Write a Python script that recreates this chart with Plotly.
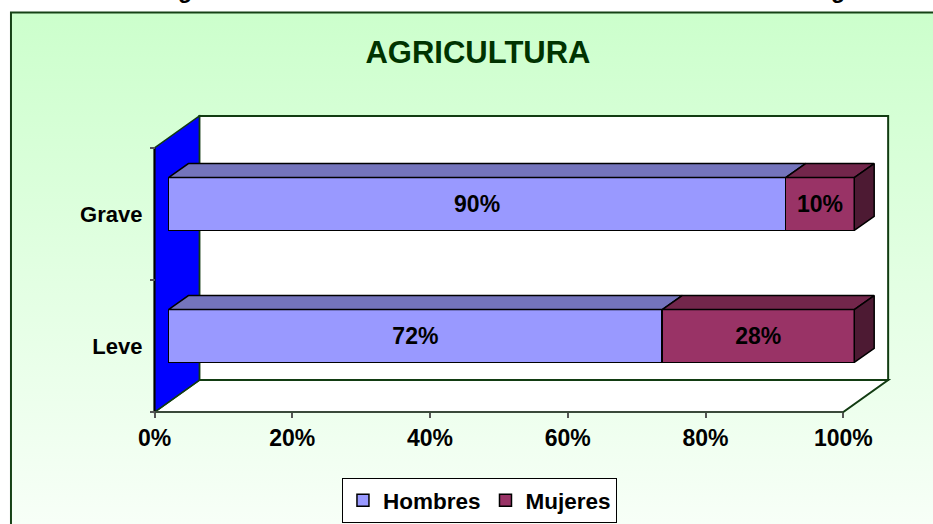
import base64
import plotly.graph_objects as go

# ---------------- data ----------------
categories = ["Leve", "Grave"]
hombres = [0.72, 0.90]
mujeres = [0.28, 0.10]
series_names = ["Hombres", "Mujeres"]
x_tick_vals = [0, 0.2, 0.4, 0.6, 0.8, 1.0]
x_tick_text = ["0%", "20%", "40%", "60%", "80%", "100%"]
title_text = "AGRICULTURA"

# ---------------- styling / geometry ----------------
W, H = 933, 524
FONT = "Liberation Sans"
C_H_FRONT, C_H_TOP = "#9999FF", "#7474BC"
C_M_FRONT, C_M_TOP, C_M_SIDE = "#993366", "#72264B", "#4D1A33"
EDGE = "#000000"
WALL_EDGE = "#123C12"

# main (axes) subplot pixel mapping
X0, XS = 152, 691      # px of value 0, px per unit
YC, YS = 346, 132      # px of category 0, px per unit
# bar subplot pixel mapping (bars sit a bit deeper in the 3D box)
BX0, BXS = 166, 688
BYC, BYS = 336, 132
WALL_DX, WALL_DY = 45 / XS, 32 / YS
BAR_DX, BAR_DY = 20 / BXS, 14 / BYS
BAR_W = 0.4

DOM_L, DOM_R, DOM_T, DOM_B = 138, 905, 95, 425


def xdom():
    return [DOM_L / W, DOM_R / W]


def ydom():
    return [1 - DOM_B / H, 1 - DOM_T / H]


fig = go.Figure()

# front faces: real stacked bars
for name, vals, col in [(series_names[0], hombres, C_H_FRONT), (series_names[1], mujeres, C_M_FRONT)]:
    fig.add_trace(go.Bar(
        y=list(range(len(categories))), x=vals, name=name, orientation="h",
        width=BAR_W, xaxis="x2", yaxis="y2",
        marker=dict(color=col, line=dict(color=EDGE, width=1.5)),
        text=[f"{round(v * 100)}%" for v in vals], textposition="inside",
        insidetextanchor="middle", textangle=0, constraintext="none",
        insidetextfont=dict(family=FONT, size=23, color="black", weight="bold"),
        hoverinfo="skip",
    ))

# 3D top and side faces computed from the same values
for i in range(len(categories)):
    yt = i + BAR_W / 2
    yb = i - BAR_W / 2
    start = 0.0
    for vals, topc in [(hombres, C_H_TOP), (mujeres, C_M_TOP)]:
        end = start + vals[i]
        fig.add_trace(go.Scatter(
            x=[start, end, end + BAR_DX, start + BAR_DX, start],
            y=[yt, yt, yt + BAR_DY, yt + BAR_DY, yt],
            xaxis="x2", yaxis="y2", mode="lines", fill="toself",
            fillcolor=topc, line=dict(color=EDGE, width=1.5),
            showlegend=False, hoverinfo="skip"))
        start = end
    fig.add_trace(go.Scatter(
        x=[start, start, start + BAR_DX, start + BAR_DX, start],
        y=[yb, yt, yt + BAR_DY, yb + BAR_DY, yb],
        xaxis="x2", yaxis="y2", mode="lines", fill="toself",
        fillcolor=C_M_SIDE, line=dict(color=EDGE, width=1.5),
        showlegend=False, hoverinfo="skip"))

# invisible trace to establish main subplot
fig.add_trace(go.Scatter(x=[0, 1], y=[-0.5, 1.5], mode="markers",
                         marker=dict(opacity=0), showlegend=False, hoverinfo="skip"))

n = len(categories)
ylo, yhi = -0.5, n - 0.5
shapes = []
# back wall
shapes.append(dict(type="rect", xref="x", yref="y", x0=WALL_DX, x1=1 + WALL_DX,
                   y0=ylo + WALL_DY, y1=yhi + WALL_DY, fillcolor="white",
                   line=dict(color=WALL_EDGE, width=2), layer="below"))
# floor
shapes.append(dict(type="path", xref="x", yref="y",
                   path=f"M0,{ylo} L1,{ylo} L{1 + WALL_DX},{ylo + WALL_DY} L{WALL_DX},{ylo + WALL_DY} Z",
                   fillcolor="white", line=dict(color=WALL_EDGE, width=2), layer="below"))
# left wall
shapes.append(dict(type="path", xref="x", yref="y",
                   path=f"M0,{ylo} L0,{yhi} L{WALL_DX},{yhi + WALL_DY} L{WALL_DX},{ylo + WALL_DY} Z",
                   fillcolor="#0000FF", line=dict(color=WALL_EDGE, width=1.5), layer="below"))
# y axis line and x axis line
shapes.append(dict(type="line", xref="x", yref="y", x0=0, x1=0, y0=ylo, y1=yhi,
                   line=dict(color="#000000", width=2), layer="below"))
shapes.append(dict(type="line", xref="x", yref="y", x0=0, x1=1, y0=ylo, y1=ylo,
                   line=dict(color="#3A4A3A", width=2), layer="below"))

# background gradient + border of chart area
svg = f'''<svg xmlns="http://www.w3.org/2000/svg" width="{W}" height="{H}">
<defs><linearGradient id="g" x1="0" y1="0" x2="0" y2="1">
<stop offset="0" stop-color="#CCFFCC"/><stop offset="1" stop-color="#FAFFFA"/></linearGradient></defs>
<rect x="0" y="0" width="{W}" height="{H}" fill="white"/>
<rect x="8" y="12.5" width="{W + 20}" height="{H + 20}" fill="url(#g)" stroke="#164216" stroke-width="2"/>
</svg>'''
src = "data:image/svg+xml;base64," + base64.b64encode(svg.encode()).decode()

fig.update_layout(
    width=W, height=H, margin=dict(l=0, r=0, t=0, b=0),
    paper_bgcolor="white", plot_bgcolor="rgba(0,0,0,0)",
    barmode="stack", showlegend=True,
    font=dict(family=FONT, color="black"),
    images=[dict(source=src, xref="paper", yref="paper", x=0, y=1, sizex=1, sizey=1,
                 xanchor="left", yanchor="top", sizing="stretch", layer="below")],
    shapes=shapes,
    title=dict(text=title_text, x=478 / W, xanchor="center", y=1 - 52 / H, yanchor="middle",
               font=dict(family=FONT, size=31, color="#003300", weight="bold")),
    xaxis=dict(domain=xdom(), range=[(DOM_L - X0) / XS, (DOM_R - X0) / XS],
               anchor="free", position=1 - 412 / H,
               tickvals=x_tick_vals, ticktext=x_tick_text, ticks="outside", ticklen=5,
               tickcolor="#555555", tickwidth=1.5, showgrid=False, zeroline=False, showline=False,
               tickfont=dict(family=FONT, size=23, color="black", weight="bold")),
    yaxis=dict(domain=ydom(), range=[(YC - DOM_B) / YS, (YC - DOM_T) / YS],
               anchor="free", position=X0 / W,
               tickvals=list(range(n)), ticktext=categories, ticks="",
               ticklabelstandoff=12,
               minor=dict(tickvals=[ylo + k for k in range(n + 1)], ticks="outside",
                          ticklen=5, tickcolor="#555555", tickwidth=1.5),
               showgrid=False, zeroline=False, showline=False,
               tickfont=dict(family=FONT, size=22, color="black", weight="bold")),
    xaxis2=dict(domain=xdom(), range=[(DOM_L - BX0) / BXS, (DOM_R - BX0) / BXS],
                anchor="y2", visible=False, showgrid=False, zeroline=False),
    yaxis2=dict(domain=ydom(), range=[(BYC - DOM_B) / BYS, (BYC - DOM_T) / BYS],
                anchor="x2", visible=False, showgrid=False, zeroline=False),
    legend=dict(orientation="h", x=478 / W, xanchor="center", y=1 / H, yanchor="bottom",
                traceorder="normal",
                bgcolor="white", bordercolor="black", borderwidth=1,
                font=dict(family=FONT, size=22.5, color="black", weight="bold"),
                itemclick=False, itemdoubleclick=False),
    annotations=[dict(text="g", xref="paper", yref="paper", x=px / W, y=1,
                      xanchor="center", yanchor="bottom",
                      yshift=-5, showarrow=False,
                      font=dict(family=FONT, size=23, color="black", weight="bold"))
                 for px in (183, 838)],
)

fig.write_html("out.html", config={"displayModeBar": False},
               post_script="document.body.style.margin='0px';")
